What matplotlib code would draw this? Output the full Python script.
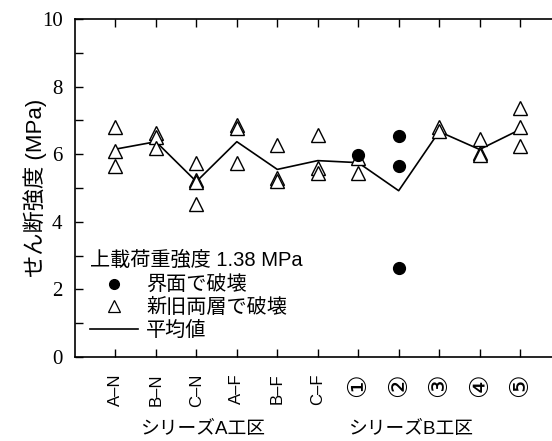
import matplotlib.pyplot as plt
from matplotlib.lines import Line2D

plt.rcParams['font.family'] = ['Liberation Sans', 'Noto Sans CJK JP', 'DejaVu Sans']

cats = ['A–N', 'B–N', 'C–N', 'A–F', 'B–F', 'C–F', '①', '②', '③', '④', '⑤']
# 新旧両層で破壊 (triangles)
tri_vals = [
    [6.81, 6.09, 5.65],
    [6.62, 6.52, 6.17],
    [5.75, 5.24, 5.19, 4.52],
    [6.86, 6.77, 5.75],
    [6.27, 5.29, 5.22],
    [6.57, 5.58, 5.45],
    [5.88, 5.43],
    [],
    [6.81, 6.70],
    [6.44, 6.03, 5.98],
    [7.36, 6.80, 6.24],
]
# 界面で破壊 (circles)
circ_vals = [[], [], [], [], [], [], [5.98], [6.53, 5.65, 2.62], [], [], []]
# 平均値
mean_vals = [6.15, 6.37, 5.19, 6.37, 5.55, 5.81, 5.75, 4.92, 6.67, 6.14, 6.73]

fig = plt.figure(figsize=(5.52, 4.41), dpi=100)
ax = fig.add_axes([75/552, 84/441, 485.5/552, 338/441])

xs = range(1, len(cats) + 1)
ax.plot(xs, mean_vals, color='black', lw=1.2, zorder=2)
for i, vals in enumerate(tri_vals):
    ax.plot([i + 1] * len(vals), vals, ls='none', marker='^', ms=9.5,
            mfc='white', mec='black', mew=1.0, zorder=3)
for i, vals in enumerate(circ_vals):
    ax.plot([i + 1] * len(vals), vals, ls='none', marker='o', ms=8.5,
            color='black', zorder=4)

ax.set_xlim(0, 12)
ax.set_ylim(0, 10)
ax.set_xticks(list(xs))
ax.set_xticklabels(cats, rotation=90, fontsize=12)
for lab in ax.get_xticklabels():
    if lab.get_text() in '①②③④⑤':
        lab.set_family('DejaVu Sans')
        lab.set_fontsize(19)
ax.set_yticks(range(0, 11, 2))
ax.set_yticks(range(1, 10, 2), minor=True)
ax.tick_params(direction='in', which='both', top=True, length=6, width=1)
ax.tick_params(axis='x', pad=12)
ax.tick_params(axis='y', pad=9)
for lab in ax.get_yticklabels():
    lab.set_family('Liberation Serif')
    lab.set_fontsize(15)
ax.spines['right'].set_visible(False)
for s in ['left', 'bottom', 'top']:
    ax.spines[s].set_linewidth(1.2)

ax.set_ylabel('せん断強度 (MPa)', fontsize=16, labelpad=-4)

fig.text(203/552, 1 - 429/441, 'シリーズA工区', fontsize=13.5, ha='center', va='center')
fig.text(411/552, 1 - 429/441, 'シリーズB工区', fontsize=13.5, ha='center', va='center')

handles = [
    Line2D([], [], ls='none', marker='o', ms=7, color='black'),
    Line2D([], [], ls='none', marker='^', ms=8, mfc='white', mec='black', mew=0.9),
    Line2D([], [], color='black', lw=1.2),
]
leg = ax.legend(handles, ['界面で破壊', '新旧両層で破壊', '平均値'],
                title='上載荷重強度 1.38 MPa', loc='lower left',
                bbox_to_anchor=(0.01, 0.02), frameon=False, fontsize=14.5,
                title_fontsize=14.5, handlelength=2.4, handletextpad=0.4,
                labelspacing=0.18, borderaxespad=0.3, borderpad=0.2)
leg._legend_box.align = 'left'
leg._legend_box.sep = 4

fig.savefig('out.png', dpi=100)
